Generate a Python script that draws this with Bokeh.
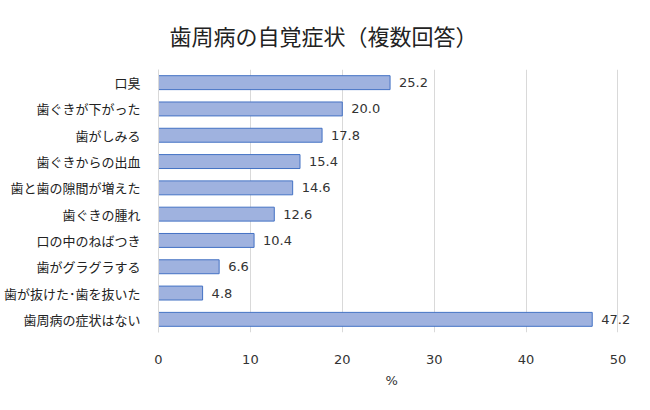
from bokeh.core.properties import value
from bokeh.embed import file_html
from bokeh.models import ColumnDataSource, Range1d, FactorRange, Title
from bokeh.plotting import figure
from bokeh.resources import INLINE

# 歯周病の自覚症状（複数回答）, %
symptoms = ["口臭", "歯ぐきが下がった", "歯がしみる", "歯ぐきからの出血", "歯と歯の隙間が増えた",
            "歯ぐきの腫れ", "口の中のねばつき", "歯がグラグラする", "歯が抜けた･歯を抜いた",
            "歯周病の症状はない"]
percent = [25.2, 20.0, 17.8, 15.4, 14.6, 12.6, 10.4, 6.6, 4.8, 47.2]
x_ticks = [0, 10, 20, 30, 40, 50]

jp_font = "Noto Sans CJK JP"
num_font = "DejaVu Sans"

source = ColumnDataSource(dict(
    cat=symptoms,
    val=percent,
    label=["%.1f" % v for v in percent],
))

# range runs a little past 50 so the 47.2 label is not clipped by the frame
p = figure(width=634, height=394, output_backend="svg", toolbar_location=None,
           y_range=FactorRange(*reversed(symptoms)), x_range=Range1d(0, 51.8),
           title="歯周病の自覚症状（複数回答）")
p.min_border_left = 150
p.min_border_right = 0
p.min_border_top = 69
p.min_border_bottom = 62
p.outline_line_color = None
p.border_fill_color = "white"

# title sits centred on the whole chart, so it is placed from the frame's left edge
p.title.align = "left"
p.title.vertical_align = "top"
p.title.text_font = jp_font
p.title.text_font_size = "22px"
p.title.text_font_style = "normal"
p.title.text_color = "#222222"
p.title.offset = 11
p.title.standoff = 34

p.hbar(y="cat", right="val", left=0, height=0.53, source=source,
       fill_color="#9fb2df", line_color="#4472c4", line_width=1)

p.text(x="val", y="cat", text="label", source=source, x_offset=9,
       text_baseline="middle", text_align="left", text_font_size="13px",
       text_font=value(num_font), text_color="#333333")

p.xaxis.ticker = x_ticks
p.xaxis.major_label_text_font = num_font
p.xaxis.major_label_text_font_size = "13px"
p.xaxis.major_label_text_color = "#333333"
p.xaxis.major_label_standoff = 16
p.xaxis.axis_line_color = None
p.xaxis.major_tick_line_color = None
p.xaxis.minor_tick_line_color = None

# "%" under the 0-50 span (not under the whole widened frame)
unit = Title(text="%", align="left", offset=227, standoff=8, text_font=num_font,
             text_font_size="13px", text_font_style="normal", text_color="#333333")
p.add_layout(unit, "below")

p.yaxis.major_label_text_font = jp_font
p.yaxis.major_label_text_font_size = "13px"
p.yaxis.major_label_text_color = "#222222"
p.yaxis.major_label_standoff = 12
p.yaxis.axis_line_color = "#d9d9d9"
p.yaxis.major_tick_line_color = None
p.yaxis.minor_tick_line_color = None

p.xgrid.grid_line_color = "#d9d9d9"
p.ygrid.grid_line_color = None

open("out.html", "w").write(file_html(p, INLINE))
